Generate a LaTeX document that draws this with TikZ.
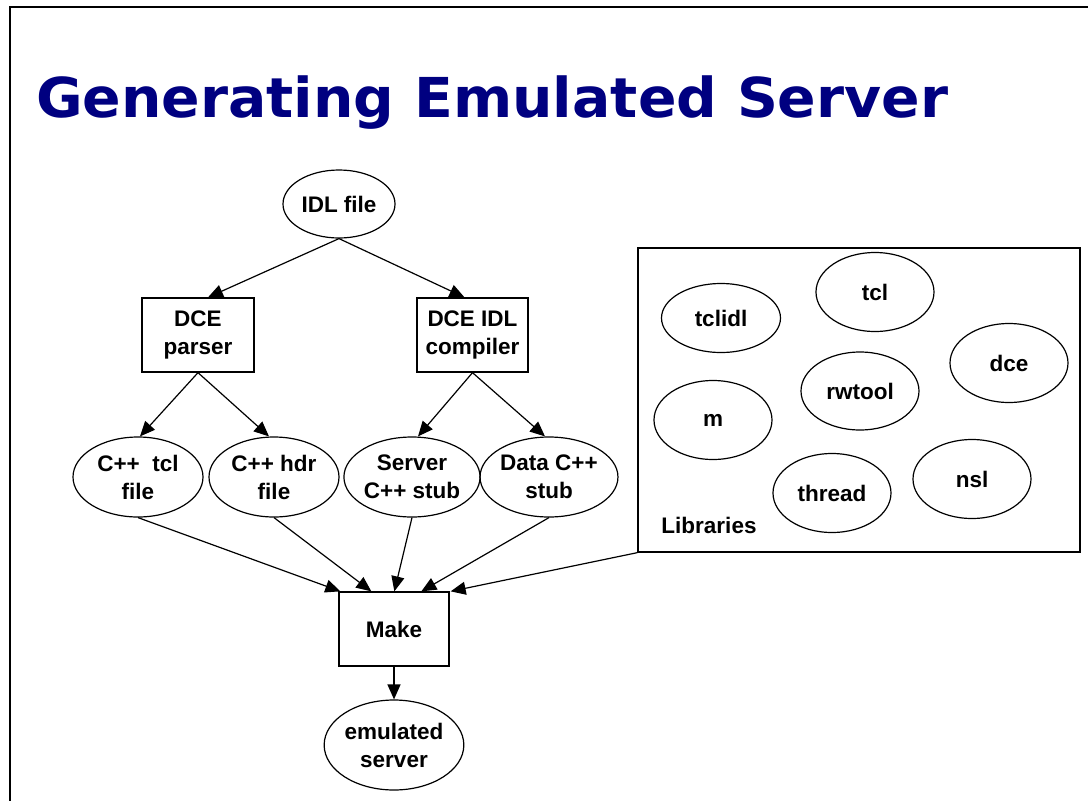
\documentclass[tikz,border=0pt]{standalone}
\usepackage{fontspec}
\setmainfont{Liberation Sans}
\newfontfamily\titlefont{DejaVu Sans}
\usetikzlibrary{shapes.geometric,arrows.meta}
\definecolor{titlenavy}{RGB}{0,0,128}
\newsavebox\titlebox
\sbox\titlebox{\color{titlenavy}\titlefont\bfseries\fontsize{55}{60}\selectfont Generating Emulated Server}
\tikzset{
  lbl/.style={font=\bfseries\fontsize{22.5}{28}\selectfont, align=center, inner sep=0pt},
  oval/.style={lbl, ellipse, draw, line width=1.2pt},
  stepbox/.style={lbl, rectangle, draw, line width=1.3pt},
  flow/.style={-{Triangle[length=15pt,width=13pt]}, line width=1.2pt},
}
\begin{document}
\begin{tikzpicture}[x=1pt,y=-1pt]
\useasboundingbox (0,0) rectangle (1088,801);
% slide frame
\draw[line width=2pt] (10,801) -- (10,7) -- (1088,7);
% heading
\node[anchor=base west, inner sep=0pt] (title) at (36,117)
  {\resizebox{912pt}{\height}{\usebox\titlebox}};

% generator chain
\node[oval, minimum width=112pt, minimum height=68pt] (idl) at (339,204) {IDL file};
\node[stepbox, minimum width=112pt, minimum height=74pt] (parser) at (198,335) {DCE\\parser};
\node[stepbox, minimum width=111pt, minimum height=74pt] (idlc) at (472.5,335) {DCE IDL\\compiler};
\node[oval, minimum width=130pt, minimum height=80pt] (tclf) at (138,477) {C++\ \ tcl\\file};
\node[oval, minimum width=130pt, minimum height=80pt] (hdrf) at (274,477) {C++ hdr\\file};
\node[oval, minimum width=130pt, minimum height=80pt] (sstub) at (412,477) {Server\\C++ stub};
\node[oval, minimum width=130pt, minimum height=80pt] (dstub) at (549,477) {Data C++\\stub};
\node[stepbox, minimum width=110pt, minimum height=74pt] (make) at (394,629) {Make};
\node[oval, minimum width=135pt, minimum height=90pt] (emu) at (394,745) {emulated\\server};

% library group
\node[rectangle, draw, line width=1.3pt, minimum width=442pt, minimum height=304pt] (libs) at (859,400) {};
\node[oval, minimum width=119pt, minimum height=69pt] (tclidl) at (721,318) {tclidl};
\node[oval, minimum width=118pt, minimum height=79pt] (tcl) at (875,292) {tcl};
\node[oval, minimum width=118pt, minimum height=79pt] (dce) at (1009,363) {dce};
\node[oval, minimum width=118pt, minimum height=78pt] (rwtool) at (860,391) {rwtool};
\node[oval, minimum width=118pt, minimum height=79pt] (mlib) at (713,420) {m};
\node[oval, minimum width=118pt, minimum height=79pt] (thread) at (832,493) {thread};
\node[oval, minimum width=118pt, minimum height=79pt] (nsl) at (972,479) {nsl};
\node[lbl] (libtitle) at (709,525) {Libraries};

% connectors
\draw[flow] (idl.south) -- ([xshift=10pt]parser.north);
\draw[flow] (idl.south) -- ([xshift=-8pt]idlc.north);
\draw[flow] (parser.south) -- ([xshift=2pt]tclf.north);
\draw[flow] (parser.south) -- ([xshift=-5pt]hdrf.north);
\draw[flow] (idlc.south) -- ([xshift=6pt]sstub.north);
\draw[flow] (idlc.south) -- ([xshift=-4pt]dstub.north);
\draw[flow] (tclf.south) -- ([xshift=2pt]make.north west);
\draw[flow] (hdrf.south) -- ([xshift=33pt]make.north west);
\draw[flow] (sstub.south) -- ([xshift=56pt]make.north west);
\draw[flow] (dstub.south) -- ([xshift=83pt]make.north west);
\draw[flow] (libs.south west) -- ([xshift=1pt]make.north east);
\draw[flow] (make.south) -- (emu.north);
\end{tikzpicture}
\end{document}
